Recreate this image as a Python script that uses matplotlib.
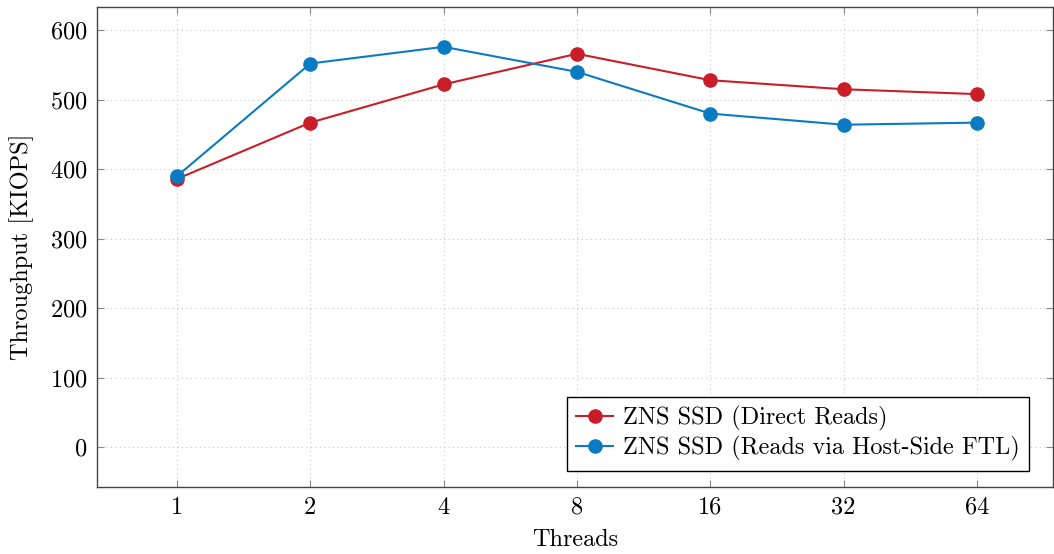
import matplotlib.pyplot as plt
import numpy as np

plt.rcParams['font.family'] = ['cmr10', 'DejaVu Serif']
plt.rcParams['mathtext.fontset'] = 'cm'
plt.rcParams['axes.formatter.use_mathtext'] = True

# data
threads = ['1', '2', '4', '8', '16', '32', '64']
direct_reads = [386, 467, 522, 566, 528, 515, 508]
ftl_reads = [390, 552, 576, 540, 480, 464, 467]

red = '#c91d28'
blue = '#0a7bc2'

fig, ax = plt.subplots(figsize=(10.54, 5.54), dpi=100)
x = np.arange(len(threads))

ax.plot(x, direct_reads, color=red, marker='o', markersize=9.5, linewidth=1.5,
        label='ZNS SSD (Direct Reads)', zorder=3)
ax.plot(x, ftl_reads, color=blue, marker='o', markersize=9.5, linewidth=1.5,
        label='ZNS SSD (Reads via Host-Side FTL)', zorder=4)

ax.set_xticks(x)
ax.set_xticklabels(threads)
ax.set_yticks([0, 100, 200, 300, 400, 500, 600])
ax.set_xlim(-0.6, 6.57)
ax.set_ylim(-57, 633)

ax.grid(True, linestyle=(0, (1, 3)), color='#c8c8c8', linewidth=0.8)
ax.tick_params(direction='in', top=True, right=True, length=5, color='#888888',
               labelsize=17.5, pad=7)
for s in ax.spines.values():
    s.set_color('#444444')
    s.set_linewidth(1.0)

ax.set_xlabel('Threads', fontsize=17.5, labelpad=7)
ax.set_ylabel('Throughput [KIOPS]', fontsize=17.5, labelpad=11)

leg = ax.legend(loc='lower right', bbox_to_anchor=(0.975, 0.033), fontsize=17.5,
                fancybox=False, framealpha=1, edgecolor='black', borderpad=0.4,
                handlelength=1.5, handletextpad=0.4, labelspacing=0.2,
                borderaxespad=0)
leg.get_frame().set_linewidth(1.0)

plt.subplots_adjust(left=0.092, right=0.999, top=0.987, bottom=0.121)
plt.savefig('out.png', dpi=100)
